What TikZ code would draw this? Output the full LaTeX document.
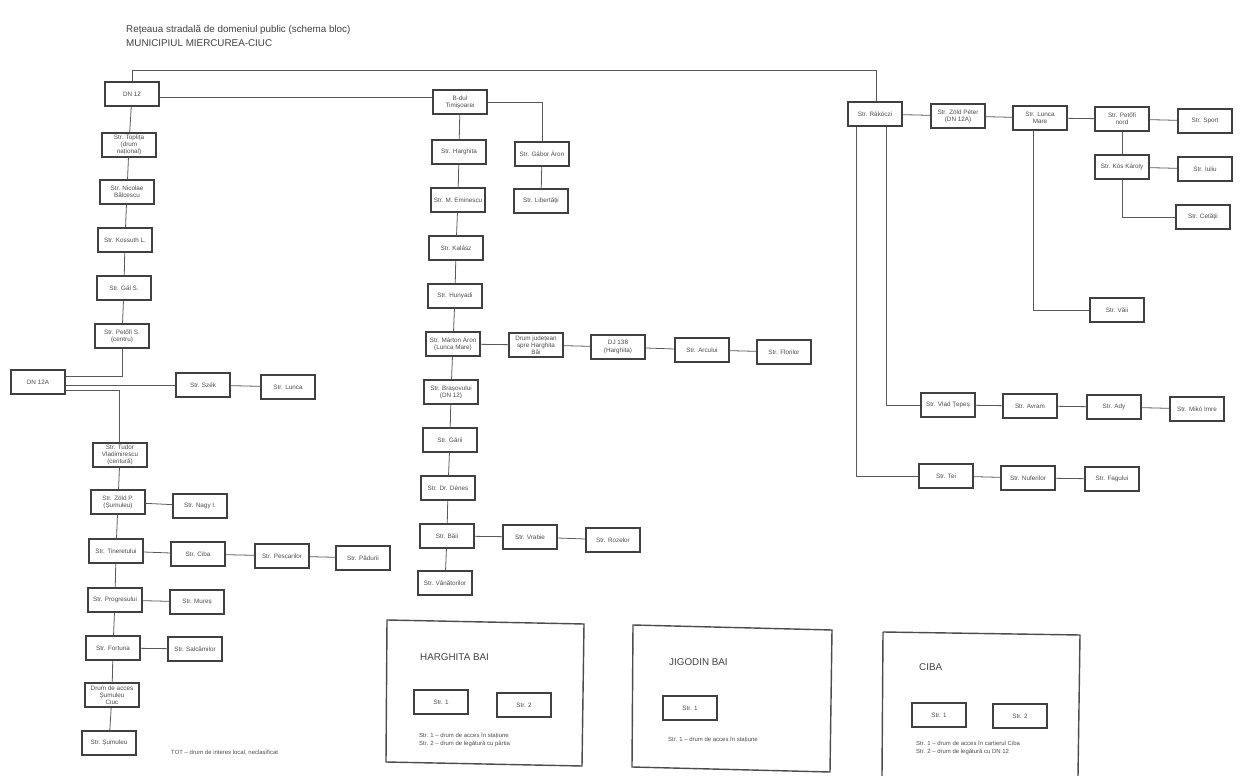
\documentclass[tikz,border=0pt]{standalone}
\usepackage{fontspec}
\setmainfont{Liberation Sans}
\begin{document}
\begin{tikzpicture}[
        % un pixel della scansione = 0.02cm, asse y verso il basso
        x=0.02cm, y=-0.02cm,
        % Stili dei nodi e delle linee
        box/.style={draw=black!75, line width=0.6pt, minimum width=1.08cm, minimum height=0.48cm,
            inner sep=1pt, align=center, font=\fontsize{3.6}{4.1}\selectfont, text=black!70},
        link/.style={draw=black!65, line width=0.45pt},
        frame/.style={draw=black!70, line width=0.8pt},
        caption/.style={anchor=west, font=\fontsize{5.6}{6.6}\selectfont, text=black!75},
        note/.style={anchor=west, align=left, font=\fontsize{3.4}{4.1}\selectfont, text=black!70}
    ]
    \useasboundingbox[fill=white] (0,0) rectangle (1241,776);

    % ==============================
    % Titolo
    % ==============================
    \node[caption] (t1) at (120,30) {Rețeaua stradală de domeniul public (schema bloc)};
    \node[caption] (t2) at (120,43) {MUNICIPIUL MIERCUREA-CIUC};

    % ==============================
    % 1. COLONNA SINISTRA
    % ==============================
    \node[box] (a1) at (132,94) {DN 12};
    \node[box] (a2) at (129,145) {Str. Toplița\\ (drum\\ național)};
    \node[box] (a3) at (127,192) {Str. Nicolae\\ Bălcescu};
    \node[box] (a4) at (125,240) {Str. Kossuth L.};
    \node[box] (a5) at (124,288) {Str. Gál S.};
    \node[box] (a6) at (122,336) {Str. Petőfi S.\\ (centru)};
    \node[box] (l1) at (38,382) {DN 12A};
    \node[box] (b1) at (203,385) {Str. Szék};
    \node[box] (b2) at (288,387) {Str. Lunca};
    \node[box] (a7) at (120,455) {Str. Tudor\\ Vladimirescu\\ (centură)};
    \node[box] (a8) at (118,502) {Str. Zöld P.\\ (Șumuleu)};
    \node[box] (a8r) at (200,506) {Str. Nagy I.};
    \node[box] (a9) at (116,551) {Str. Tineretului};
    \node[box] (a9ra) at (198,554) {Str. Ciba};
    \node[box] (a9rb) at (282,556) {Str. Pescarilor};
    \node[box] (a9rc) at (363,558) {Str. Pădurii};
    \node[box] (a10) at (115,600) {Str. Progresului};
    \node[box] (a10r) at (197,602) {Str. Mureș};
    \node[box] (a11) at (113,648) {Str. Fortuna};
    \node[box] (a11r) at (195,649) {Str. Salcâmilor};
    \node[box] (a12) at (112,695) {Drum de acces\\ Șumuleu\\ Ciuc};
    \node[box] (a13) at (109,743) {Str. Șumuleu};
    \node[note] (n0) at (165,753) {TOT -- drum de interes local, neclasificat};

    % Collegamenti
    \draw[link] (a1) -- (a2) -- (a3) -- (a4) -- (a5) -- (a6);
    \coordinate (ka) at (122,376);
    \coordinate (kb) at (119,390);
    \draw[link] (a6.south) -- (ka) -- (l1.east |- ka);
    \draw[link] (l1.east |- b1) -- (b1);
    \draw[link] (b1) -- (b2);
    \draw[link] (l1.east |- kb) -- (kb) -- (a7.north -| kb);
    \draw[link] (a7) -- (a8) -- (a9) -- (a10) -- (a11) -- (a12) -- (a13);
    \draw[link] (a8) -- (a8r);
    \draw[link] (a9) -- (a9ra) -- (a9rb) -- (a9rc);
    \draw[link] (a10) -- (a10r);
    \draw[link] (a11) -- (a11r);

    % ==============================
    % 2. COLONNA CENTRALE
    % ==============================
    \node[box] (c1) at (460,102) {B-dul\\ Timișoarei};
    \node[box] (c2) at (459,152) {Str. Harghita};
    \node[box] (c2r) at (542,154) {Str. Gábor Áron};
    \node[box] (c2s) at (541,201) {Str. Libertății};
    \node[box] (c3) at (458,200) {Str. M. Eminescu};
    \node[box] (c4) at (456,248) {Str. Kalász};
    \node[box] (c5) at (455,296) {Str. Hunyadi};
    \node[box] (c6) at (453,344) {Str. Márton Áron\\ (Lunca Mare)};
    \node[box] (c6ra) at (536,345) {Drum județean\\ spre Harghita\\ Băi};
    \node[box] (c6rb) at (618,347) {DJ 138\\ (Harghita)};
    \node[box] (c6rc) at (702,350) {Str. Arcului};
    \node[box] (c6rd) at (784,352) {Str. Florilor};
    \node[box] (c7) at (451,392) {Str. Brașovului\\ (DN 12)};
    \node[box] (c8) at (450,440) {Str. Gării};
    \node[box] (c9) at (448,488) {Str. Dr. Dénes};
    \node[box] (c10) at (447,536) {Str. Băii};
    \node[box] (c10ra) at (530,537) {Str. Vrabie};
    \node[box] (c10rb) at (613,540) {Str. Rozelor};
    \node[box] (c11) at (445,583) {Str. Vânătorilor};

    % Collegamenti
    \draw[link] (a1.east |- 0,97) -- (c1.west |- 0,97);
    \draw[link] (c1.east) -| (c2r.north);
    \draw[link] (c2r) -- (c2s);
    \draw[link] (c1) -- (c2) -- (c3) -- (c4) -- (c5) -- (c6) -- (c7) -- (c8) -- (c9) -- (c10) -- (c11);
    \draw[link] (c6) -- (c6ra) -- (c6rb) -- (c6rc) -- (c6rd);
    \draw[link] (c10) -- (c10ra) -- (c10rb);

    % ==============================
    % 3. COLONNA DESTRA
    % ==============================
    \node[box] (p1) at (875,114) {Str. Rákóczi};
    \node[box] (p2) at (958,116) {Str. Zöld Péter\\ (DN 12A)};
    \node[box] (p3) at (1040,118) {Str. Lunca\\ Mare};
    \node[box] (p4) at (1122,119) {Str. Petőfi\\ nord};
    \node[box] (p5) at (1205,121) {Str. Sport};
    \node[box] (p6) at (1122,167) {Str. Kós Károly};
    \node[box] (p6r) at (1205,169) {Str. Iuliu};
    \node[box] (p7) at (1203,217) {Str. Cetății};
    \node[box] (p8) at (1117,310) {Str. Văii};
    \node[box] (p9) at (948,405) {Str. Vlad Țepeș};
    \node[box] (p9ra) at (1030,406) {Str. Avram};
    \node[box] (p9rb) at (1114,407) {Str. Ady};
    \node[box] (p9rc) at (1197,409) {Str. Mikó Imre};
    \node[box] (q1) at (946,476) {Str. Tei};
    \node[box] (q2) at (1028,478) {Str. Nuferilor};
    \node[box] (q3) at (1112,479) {Str. Fagului};

    % Collegamenti
    \coordinate (top) at (876,70);
    \draw[link] (a1.north) -- (a1.north |- top) -- (top) -- (p1.north -| top);
    \draw[link] (p1) -- (p2) -- (p3) -- (p4) -- (p5);
    \draw[link] (p4) -- (p6);
    \draw[link] (p6) -- (p6r);
    \draw[link] (p6.south) -- (p6.south |- p7) -- (p7);
    \draw[link] (p3.south -| 1033,0) |- (p8);
    \draw[link] (p1.south -| 886,0) |- (p9);
    \draw[link] (p9) -- (p9ra) -- (p9rb) -- (p9rc);
    \draw[link] (p1.south -| 856,0) |- (q1);
    \draw[link] (q1) -- (q2) -- (q3);

    % ==============================
    % 4. RIQUADRI IN BASSO
    % ==============================
    \draw[frame] (387,620) -- (584,624) -- (582,766) -- (386,762) -- cycle;
    \node[caption] (h0) at (414,657) {HARGHITA BAI};
    \node[box] (h1) at (441,702) {Str. 1};
    \node[box] (h2) at (524,705) {Str. 2};
    \node[note] (h3) at (413,740) {Str. 1 -- drum de acces în stațiune\\ Str. 2 -- drum de legătură cu pârtia};

    \draw[frame] (633,625) -- (832,630) -- (830,772) -- (632,767) -- cycle;
    \node[caption] (j0) at (663,662) {JIGODIN BAI};
    \node[box] (j1) at (690,708) {Str. 1};
    \node[note] (j2) at (662,740) {Str. 1 -- drum de acces în stațiune};

    \draw[frame] (883,632) -- (1080,635) -- (1078,776) (882,776) -- (883,632);
    \node[caption] (k0) at (913,667) {CIBA};
    \node[box] (k1) at (939,715) {Str. 1};
    \node[box] (k2) at (1020,716) {Str. 2};
    \node[note] (k3) at (910,748) {Str. 1 -- drum de acces în cartierul Ciba\\ Str. 2 -- drum de legătură cu DN 12};

\end{tikzpicture}
\end{document}
